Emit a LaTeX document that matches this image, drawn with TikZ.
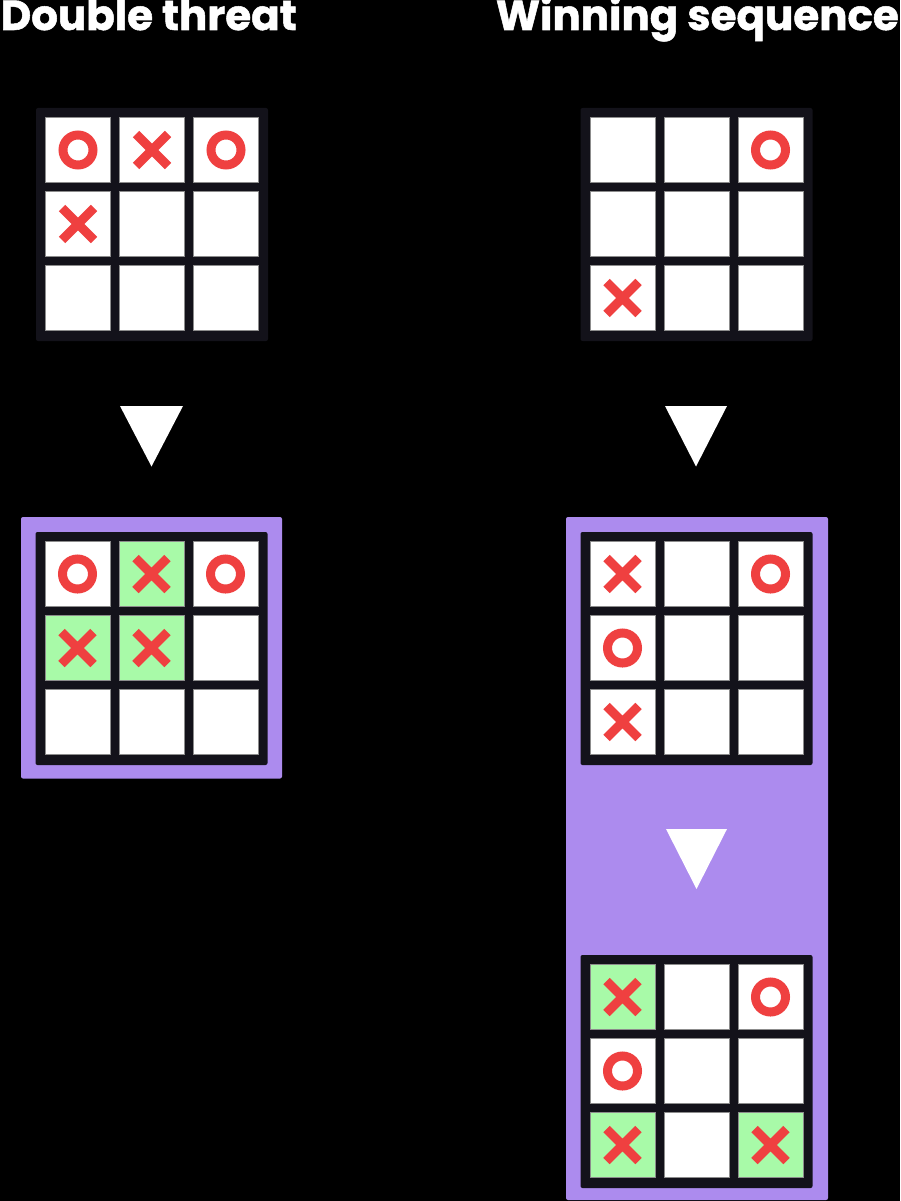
\documentclass[tikz,border=0pt]{standalone}
\usepackage{fontspec}
\newfontfamily\titlefont{Poppins}[BoldFeatures={FakeBold=1.2}]
\definecolor{framec}{HTML}{13121A}
\definecolor{markred}{HTML}{EF4040}
\definecolor{boxP}{HTML}{AC8BEE}
\definecolor{cellw}{HTML}{FFFFFF}
\definecolor{cellg}{HTML}{A8FAA8}
\tikzset{
  x=1pt, y=-1pt,
  title/.style={inner sep=0pt, text=white, font=\titlefont\bfseries\fontsize{42}{50}\selectfont},
  panel/.style={fill=boxP, rounded corners=2pt},
  arrowtri/.style={fill=white},
  cellbox/.style={draw=black!45, line width=0.8pt},
  pics/markx/.style={code={\draw[markred, line width=9pt] (-16,-16) -- (16,16) (-16,16) -- (16,-16);}},
  pics/marko/.style={code={\draw[markred, line width=9pt] (0,0) circle[radius=15pt];}},
  pics/markn/.style={code={}},
}
\newcommand{\tttboard}[4]{%
  \fill[framec, rounded corners=2pt] (#1,#2) rectangle ++(232,233);
  \foreach \f/\m [count=\k from 0] in {#3} {
    \pgfmathtruncatemacro\cc{mod(\k,3)}
    \pgfmathtruncatemacro\rr{div(\k,3)}
    \path[cellbox, fill=cell\f] ({#1+9.5+\cc*74},{#2+9.5+\rr*74}) rectangle ++(65,65);
    \pic at ({#1+42+\cc*74},{#2+42+\rr*74}) {mark\m};
  }
}
\begin{document}
\begin{tikzpicture}
\fill[black] (0,0) rectangle (900,1201);
\useasboundingbox (0,0) rectangle (900,1201);
% purple panels
\fill[panel] (21,517) rectangle (282,778.5);
\fill[panel] (566,517) rectangle (828,1200);
% boards
\tttboard{36}{108}{w/o,w/x,w/o,w/x,w/n,w/n,w/n,w/n,w/n}{lt}
\tttboard{580.5}{108}{w/n,w/n,w/o,w/n,w/n,w/n,w/x,w/n,w/n}{rt}
\tttboard{35.5}{532}{w/o,g/x,w/o,g/x,g/x,w/n,w/n,w/n,w/n}{lb}
\tttboard{580.5}{532}{w/x,w/n,w/o,w/o,w/n,w/n,w/x,w/n,w/n}{rm}
\tttboard{580.5}{955}{g/x,w/n,w/o,w/o,w/n,w/n,g/x,w/n,g/x}{rb}
% arrows
\coordinate (a1) at (151.5,466.5);
\fill[arrowtri] (120,406) -- (183,406) -- (a1) -- cycle;
\coordinate (a2) at (696,466.5);
\fill[arrowtri] (665,406) -- (727,406) -- (a2) -- cycle;
\coordinate (a3) at (696.5,889);
\fill[arrowtri] (666,829) -- (727,829) -- (a3) -- cycle;
% titles
\node[title, anchor=base west] (t1) at (0.5,30) {Double threat};
\node[title, anchor=base east] (t2) at (899,30) {Winning sequence};
\end{tikzpicture}
\end{document}
